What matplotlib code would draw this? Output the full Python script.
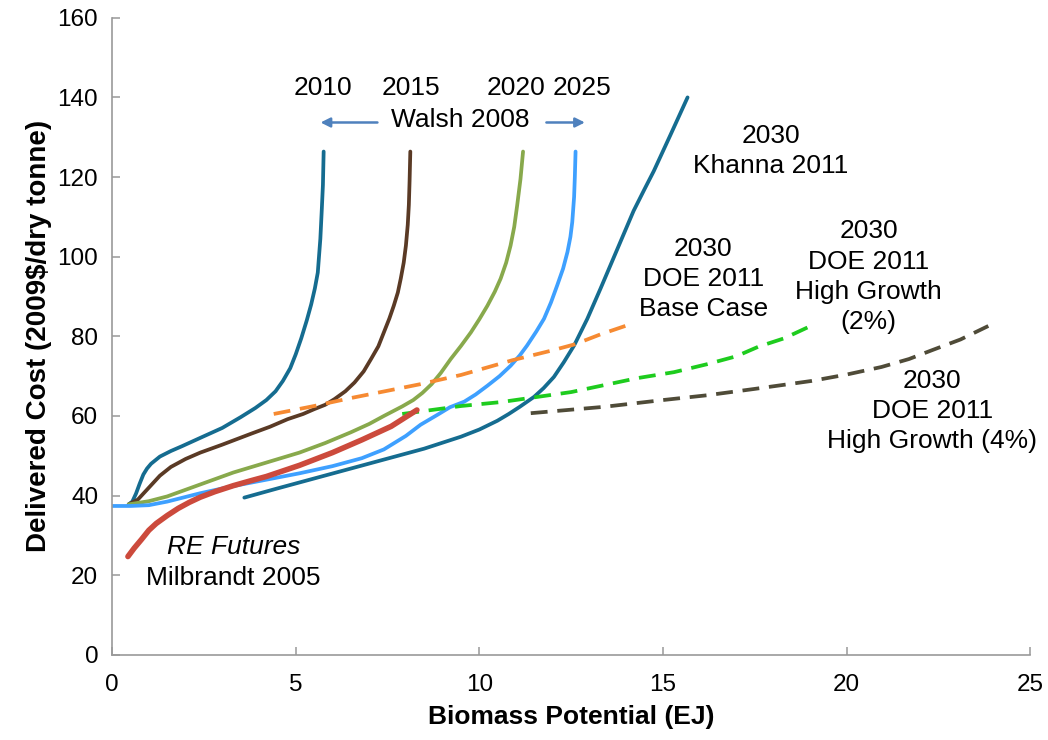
import matplotlib
matplotlib.use("Agg")
import matplotlib.pyplot as plt

plt.rcParams['font.family'] = ['Liberation Sans', 'DejaVu Sans']

# ---- data (EJ, $/dry tonne) ----
walsh2010_x = [0.45, 0.55, 0.65, 0.75, 0.85, 0.95, 1.06, 1.3, 1.6, 1.9, 2.4, 3.0, 3.5, 3.9, 4.2, 4.45, 4.65, 4.85, 5.0, 5.15, 5.3, 5.42, 5.52, 5.6, 5.67, 5.71, 5.74, 5.76]
walsh2010_y = [37.8, 38.5, 40.5, 43.0, 45.3, 46.8, 48.0, 49.8, 51.2, 52.4, 54.5, 57.0, 59.7, 62.0, 64.0, 66.2, 68.8, 72.0, 75.5, 79.5, 84.0, 88.0, 92.0, 96.0, 104.5, 112.0, 118.0, 126.4]

walsh2015_x = [0.45, 0.7, 1.0, 1.3, 1.6, 2.0, 2.4, 3.0, 3.8, 4.3, 4.78, 5.2, 5.5, 5.8, 6.05, 6.35, 6.6, 6.85, 7.05, 7.25, 7.4, 7.55, 7.67, 7.78, 7.86, 7.94, 8.0, 8.05, 8.08, 8.1, 8.12]
walsh2015_y = [37.8, 39.0, 42.0, 45.0, 47.2, 49.2, 50.8, 52.8, 55.6, 57.3, 59.2, 60.5, 61.7, 62.8, 64.2, 66.2, 68.4, 71.2, 74.3, 77.5, 81.0, 84.5, 87.7, 91.0, 94.5, 98.5, 102.8, 108.0, 113.0, 119.0, 126.4]

walsh2020_x = [0.45, 1.0, 1.5, 2.4, 3.3, 4.2, 5.1, 5.8, 6.5, 7.0, 7.4, 7.9, 8.2, 8.45, 8.7, 8.95, 9.22, 9.5, 9.77, 10.0, 10.22, 10.42, 10.58, 10.73, 10.85, 10.95, 11.03, 11.12, 11.19]
walsh2020_y = [37.8, 38.6, 39.8, 42.8, 45.8, 48.3, 50.8, 53.2, 55.9, 58.0, 60.0, 62.4, 64.0, 65.8, 68.0, 70.8, 74.3, 77.6, 81.0, 84.3, 87.7, 91.2, 94.5, 98.5, 102.8, 107.5, 112.9, 119.5, 126.4]

walsh2025_x = [0.0, 0.5, 1.0, 1.5, 2.4, 3.3, 4.2, 5.1, 6.0, 6.8, 7.4, 8.0, 8.4, 8.86, 9.2, 9.59, 9.9, 10.22, 10.55, 10.85, 11.1, 11.3, 11.55, 11.76, 11.95, 12.12, 12.28, 12.4, 12.48, 12.53, 12.58, 12.6, 12.62]
walsh2025_y = [37.4, 37.4, 37.6, 38.5, 40.6, 42.4, 44.0, 45.6, 47.4, 49.4, 51.6, 55.0, 57.8, 60.3, 62.2, 63.6, 65.4, 67.6, 70.0, 72.6, 75.2, 77.7, 81.2, 84.4, 88.5, 92.8, 97.0, 101.2, 105.0, 108.7, 115.0, 120.0, 126.4]

khanna_x = [3.6, 4.5, 5.5, 6.5, 7.5, 8.5, 9.5, 10.0, 10.49, 10.8, 11.1, 11.49, 11.75, 12.03, 12.3, 12.58, 12.94, 13.3, 13.6, 13.9, 14.2, 14.5, 14.75, 15.2, 15.67]
khanna_y = [39.5, 41.8, 44.3, 46.8, 49.3, 51.8, 54.8, 56.6, 58.8, 60.5, 62.3, 64.8, 67.0, 69.8, 73.5, 77.7, 84.4, 92.0, 98.5, 105.0, 111.5, 117.0, 121.5, 130.5, 140.0]

doe_base_x = [4.4, 5.5, 6.5, 7.86, 8.4, 9.5, 10.9, 12.0, 12.6, 13.3, 14.1]
doe_base_y = [60.5, 62.5, 64.5, 67.0, 68.0, 70.3, 74.0, 76.5, 78.0, 80.5, 83.0]

doe_hg2_x = [7.9, 9.5, 10.6, 12.5, 14.3, 15.3, 16.2, 17.0, 17.6, 18.3, 19.0]
doe_hg2_y = [60.5, 62.5, 63.5, 66.0, 69.5, 71.0, 73.0, 75.0, 77.4, 79.5, 82.5]

doe_hg4_x = [11.4, 13.4, 15.0, 16.2, 17.5, 19.05, 20.0, 20.95, 21.7, 22.35, 23.1, 23.86]
doe_hg4_y = [60.7, 62.3, 64.0, 65.2, 66.8, 68.8, 70.4, 72.3, 74.3, 76.6, 79.2, 82.6]

refutures_x = [0.43, 0.6, 0.8, 1.0, 1.2, 1.5, 1.8, 2.1, 2.4, 2.8, 3.3, 3.8, 4.2, 5.1, 6.0, 6.8, 7.6, 8.3]
refutures_y = [24.7, 26.8, 29.0, 31.3, 33.0, 35.0, 36.8, 38.3, 39.6, 41.0, 42.5, 43.8, 44.8, 47.6, 50.8, 54.0, 57.4, 61.5]

yticks = [0, 20, 40, 60, 80, 100, 120, 140, 160]
xticks = [0, 5, 10, 15, 20, 25]

# ---- figure ----
fig = plt.figure(figsize=(10.48, 7.40), dpi=100)
ax = fig.add_axes([0.107, 0.115, 0.876, 0.861])

teal = '#156C90'
brown = '#5A3A25'
olive = '#88A94C'
lblue = '#3EA0FF'
orange = '#F68A32'
bgreen = '#1ECC1E'
dgray = '#4F4B38'
red = '#CC4A3C'

lw = 2.7
kw = dict(lw=lw, solid_capstyle='round', solid_joinstyle='round')
ax.plot(walsh2010_x, walsh2010_y, color=teal, **kw)
ax.plot(walsh2015_x, walsh2015_y, color=brown, **kw)
ax.plot(walsh2020_x, walsh2020_y, color=olive, **kw)
ax.plot(khanna_x, khanna_y, color=teal, **kw)
ax.plot(walsh2025_x, walsh2025_y, color=lblue, **kw)
ax.plot(doe_base_x, doe_base_y, color=orange, lw=lw, dashes=(4.5, 2.6))
ax.plot(doe_hg2_x, doe_hg2_y, color=bgreen, lw=lw, dashes=(4.5, 2.6))
ax.plot(doe_hg4_x, doe_hg4_y, color=dgray, lw=lw, dashes=(4.5, 2.6))
ax.plot(refutures_x, refutures_y, color=red, lw=4.0, solid_capstyle='round', solid_joinstyle='round')

ax.set_xlim(0, 25)
ax.set_ylim(0, 160)
ax.set_xticks(xticks)
ax.set_yticks(yticks)
ax.tick_params(axis='both', direction='in', length=6, width=1.1, color='#999999', labelsize=17.5)
ax.tick_params(axis='x', pad=14)
ax.tick_params(axis='y', pad=10)
for s in ['top', 'right']:
    ax.spines[s].set_visible(False)
for s in ['left', 'bottom']:
    ax.spines[s].set_color('#999999')
    ax.spines[s].set_linewidth(1.2)

ax.set_xlabel('Biomass Potential (EJ)', fontsize=19, fontweight='bold', labelpad=6)
ax.set_ylabel('Delivered Cost (2009$/dry tonne)', fontsize=20, fontweight='bold', labelpad=4)

fs = 19
ls = 1.32
for lbl, xv in [('2010', 5.74), ('2015', 8.13), ('2020', 11.0), ('2025', 12.8)]:
    ax.text(xv, 142.3, lbl, ha='center', va='center', fontsize=fs)
ax.text(9.47, 134.3, 'Walsh 2008', ha='center', va='center', fontsize=fs)
arrow_c = '#4F81BD'
ax.annotate('', xy=(5.6, 133.7), xytext=(7.3, 133.7),
            arrowprops=dict(arrowstyle='-|>', color=arrow_c, lw=1.8, mutation_scale=14))
ax.annotate('', xy=(12.95, 133.7), xytext=(11.75, 133.7),
            arrowprops=dict(arrowstyle='-|>', color=arrow_c, lw=1.8, mutation_scale=14))

ax.text(17.93, 126.5, '2030\nKhanna 2011', ha='center', va='center', fontsize=fs, linespacing=ls)
ax.text(16.1, 94.5, '2030\nDOE 2011\nBase Case', ha='center', va='center', fontsize=fs, linespacing=ls)
ax.text(20.6, 95.0, '2030\nDOE 2011\nHigh Growth\n(2%)', ha='center', va='center', fontsize=fs, linespacing=ls)
ax.text(22.33, 61.2, '2030\nDOE 2011\nHigh Growth (4%)', ha='center', va='center', fontsize=fs, linespacing=ls)
ax.text(3.3, 27.0, 'RE Futures', ha='center', va='center', fontsize=fs, style='italic')
ax.text(3.3, 19.3, 'Milbrandt 2005', ha='center', va='center', fontsize=fs)

fig.savefig('out.png', dpi=100)
